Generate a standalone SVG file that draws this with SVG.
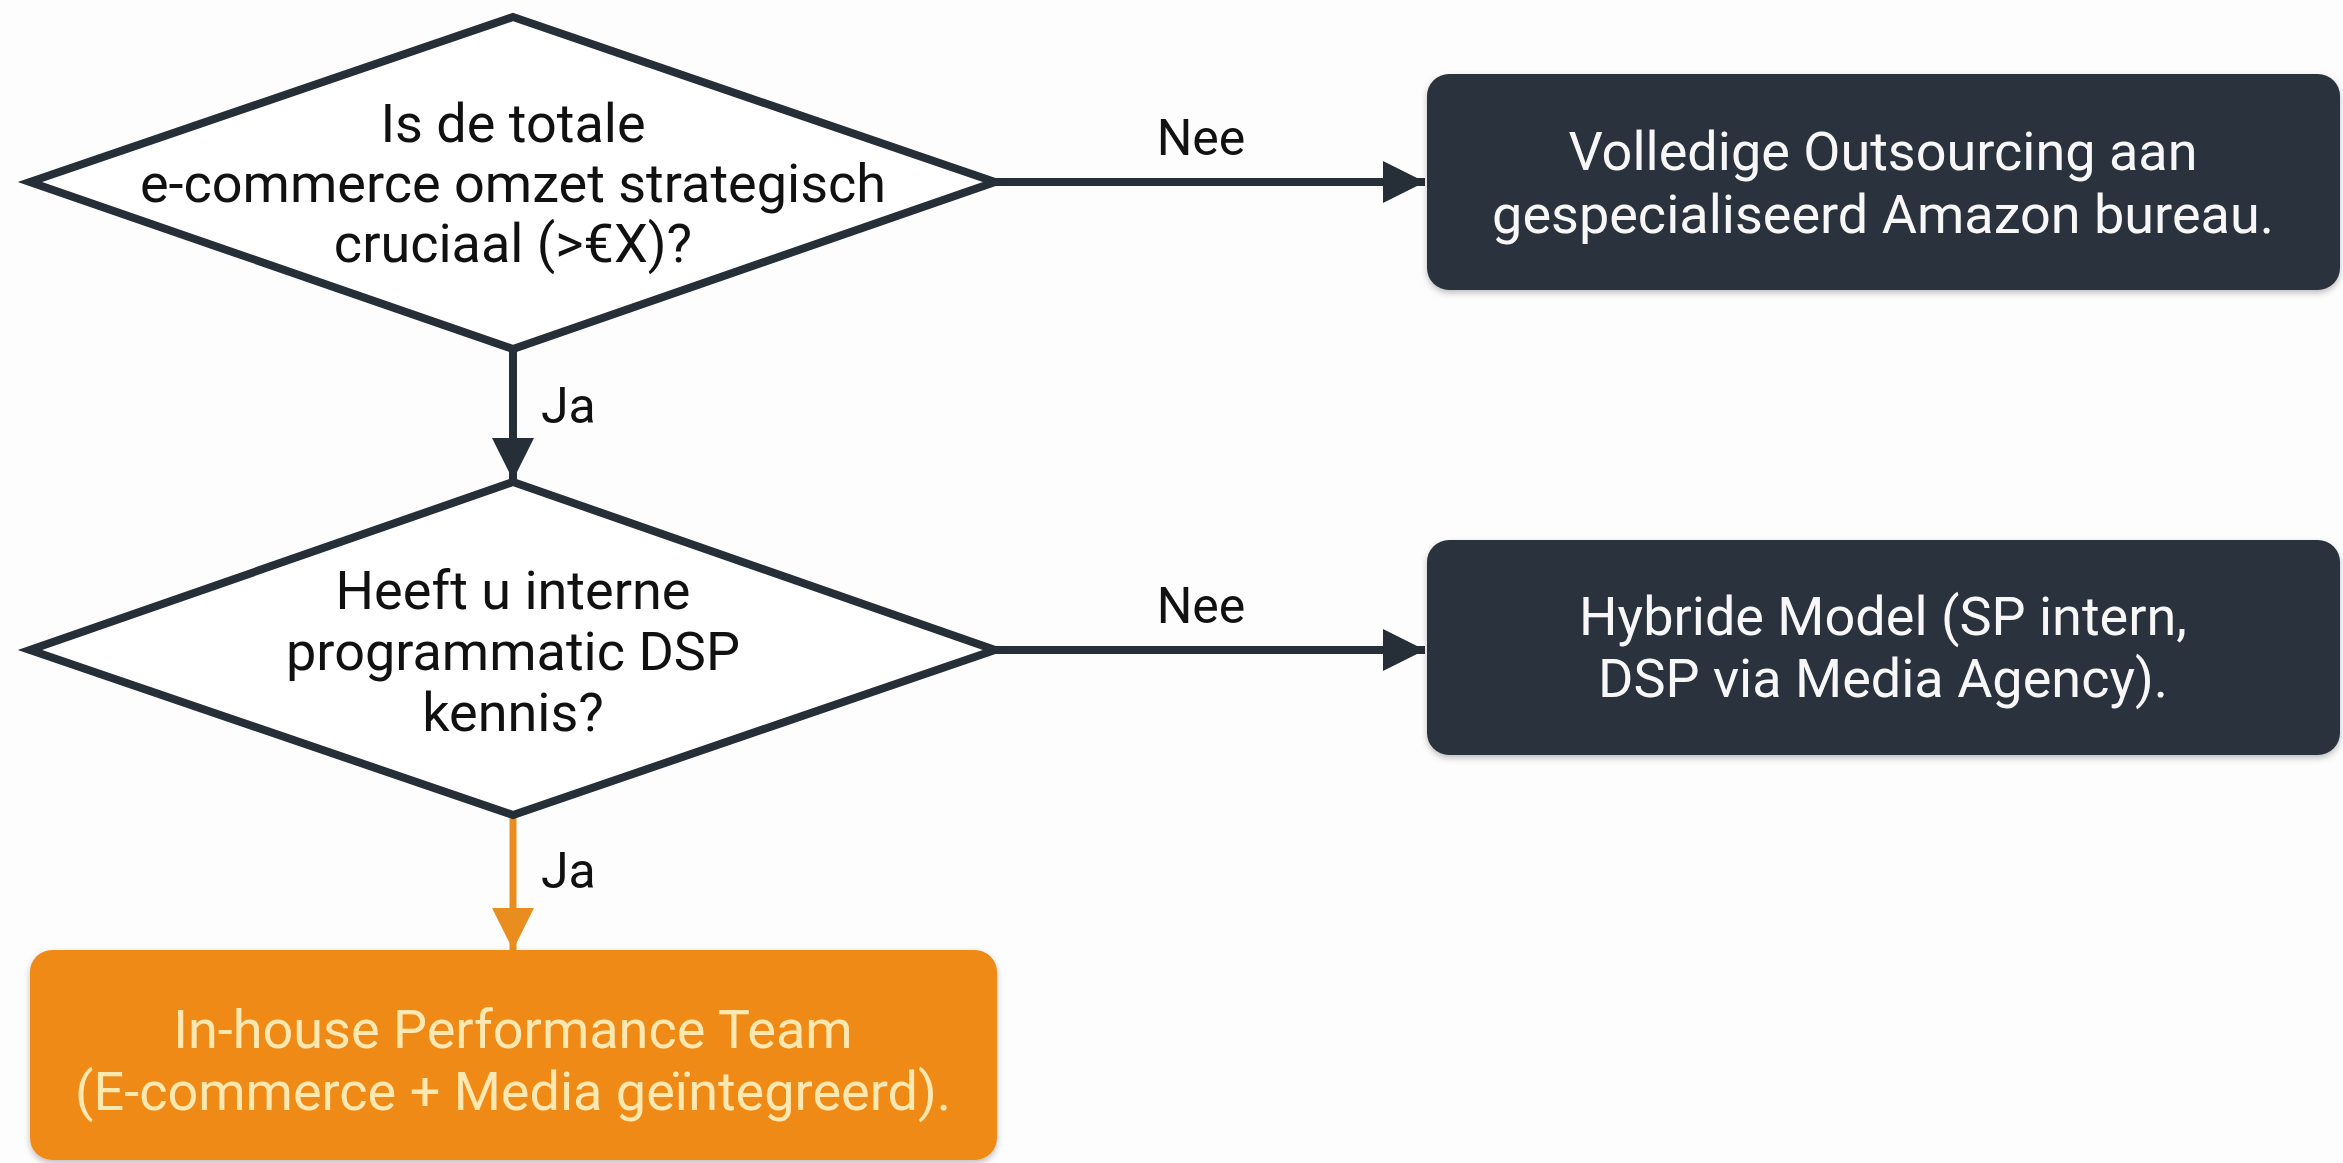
<svg xmlns="http://www.w3.org/2000/svg" width="2343" height="1163" viewBox="0 0 2343 1163">
  <defs>
    <style>
      .bg { fill: #fdfdfd; }
      .diamond { fill: #ffffff; stroke: #262e38; stroke-width: 8; stroke-linejoin: miter; }
      .dtext { font-family: Roboto, "Liberation Sans", sans-serif; font-size: 54px; fill: #111111; text-anchor: middle; }
      .dark { fill: #2b333d; }
      .orange { fill: #ef8a17; }
      .wtext { font-family: Roboto, "Liberation Sans", sans-serif; font-size: 54px; fill: #f7f7f7; text-anchor: middle; }
      .otext { font-family: Roboto, "Liberation Sans", sans-serif; font-size: 54px; fill: #fde8b2; text-anchor: middle; }
      .label { font-family: Roboto, "Liberation Sans", sans-serif; font-size: 50px; fill: #111111; }
      .edge { fill: none; stroke: #262e38; stroke-width: 8; }
      .edge-o { fill: none; stroke: #e98e1e; stroke-width: 7; }
    </style>
    <marker id="arrDark" markerUnits="userSpaceOnUse" markerWidth="44" markerHeight="44" refX="42" refY="21" orient="auto">
      <path d="M0,0 L42,21 L0,42 Z" fill="#262e38"/>
    </marker>
    <marker id="arrOrange" markerUnits="userSpaceOnUse" markerWidth="44" markerHeight="44" refX="42" refY="21" orient="auto">
      <path d="M0,0 L42,21 L0,42 Z" fill="#e98e1e"/>
    </marker>
    <filter id="shadow" x="-5%" y="-10%" width="110%" height="125%">
      <feDropShadow dx="0" dy="3" stdDeviation="3" flood-color="#000000" flood-opacity="0.25"/>
    </filter>
  </defs>

  <rect class="bg" x="0" y="0" width="2343" height="1163"/>

  <g id="connectors">
    <path id="e1" class="edge" d="M995,182 L1425,182" marker-end="url(#arrDark)"/>
    <text class="label" x="1201" y="155" text-anchor="middle">Nee</text>
    <path id="e2" class="edge" d="M513,349 L513,480" marker-end="url(#arrDark)"/>
    <text class="label" x="541" y="423">Ja</text>
    <path id="e3" class="edge" d="M995,650 L1425,650" marker-end="url(#arrDark)"/>
    <text class="label" x="1201" y="623" text-anchor="middle">Nee</text>
    <path id="e4" class="edge-o" d="M513,815 L513,950" marker-end="url(#arrOrange)"/>
    <text class="label" x="541" y="888">Ja</text>
  </g>

  <g id="q1">
    <polygon class="diamond" points="513,17 995,182 513,349 30,182"/>
    <text class="dtext" x="513" y="142">Is de totale</text>
    <text class="dtext" x="513" y="202">e-commerce omzet strategisch</text>
    <text class="dtext" x="513" y="262">cruciaal (&gt;€X)?</text>
  </g>

  <g id="q2">
    <polygon class="diamond" points="513,482 995,650 513,815 30,650"/>
    <text class="dtext" x="513" y="609">Heeft u interne</text>
    <text class="dtext" x="513" y="670">programmatic DSP</text>
    <text class="dtext" x="513" y="731">kennis?</text>
  </g>

  <g id="r1">
    <rect class="dark" x="1427" y="74" width="913" height="216" rx="22" filter="url(#shadow)"/>
    <text class="wtext" x="1883" y="170">Volledige Outsourcing aan</text>
    <text class="wtext" x="1883" y="233">gespecialiseerd Amazon bureau.</text>
  </g>

  <g id="r2">
    <rect class="dark" x="1427" y="540" width="913" height="215" rx="22" filter="url(#shadow)"/>
    <text class="wtext" x="1883" y="635">Hybride Model (SP intern,</text>
    <text class="wtext" x="1883" y="697">DSP via Media Agency).</text>
  </g>

  <g id="r3">
    <rect class="orange" x="30" y="950" width="967" height="210" rx="22" filter="url(#shadow)"/>
    <text class="otext" x="513" y="1048">In-house Performance Team</text>
    <text class="otext" x="513" y="1110">(E-commerce + Media geïntegreerd).</text>
  </g>
</svg>
